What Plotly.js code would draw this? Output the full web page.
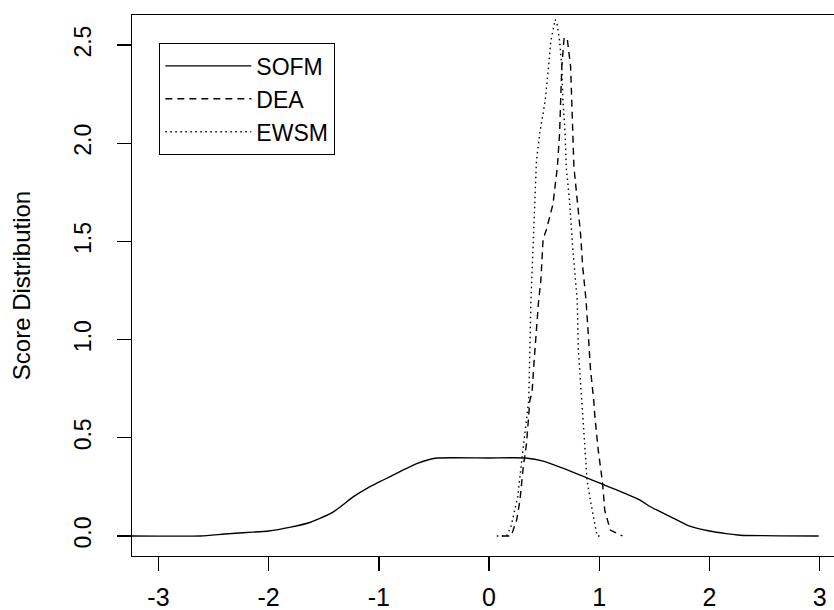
<!DOCTYPE html>
<html>
<head>
<meta charset="utf-8">
<script src="https://cdn.plot.ly/plotly-3.0.1.min.js"></script>
<style>html,body{margin:0;padding:0;background:#fff;}#chart{width:834px;height:610px;}</style>
</head>
<body>
<div id="chart"></div>
<script>
// Series names
const seriesNames = ["SOFM", "DEA", "EWSM"];

// SOFM (solid)
const sofmX = [-3.24, -2.62, -2.4, -2.2, -2.0, -1.8, -1.62, -1.42, -1.23, -1.1, -0.96, -0.8, -0.65, -0.55, -0.47, 0.0, 0.33, 0.5, 0.67, 0.85, 1.0, 1.2, 1.37, 1.46, 1.64, 1.82, 2.0, 2.15, 2.28, 2.99];
const sofmY = [0, 0, 0.01, 0.018, 0.025, 0.045, 0.07, 0.12, 0.2, 0.245, 0.285, 0.33, 0.37, 0.388, 0.397, 0.397, 0.397, 0.38, 0.345, 0.305, 0.27, 0.225, 0.183, 0.15, 0.1, 0.05, 0.025, 0.012, 0.004, 0];

// DEA (dashed)
const deaX = [0.12, 0.2, 0.25, 0.28, 0.31, 0.34, 0.37, 0.39, 0.41, 0.43, 0.45, 0.47, 0.48, 0.49, 0.52, 0.55, 0.58, 0.62, 0.64, 0.65, 0.66, 0.68, 0.69, 0.71, 0.74, 0.75, 0.76, 0.77, 0.80, 0.83, 0.85, 0.88, 0.90, 0.92, 0.95, 0.96, 0.99, 1.03, 1.05, 1.10, 1.21];
const deaY = [0, 0, 0.08, 0.18, 0.35, 0.47, 0.69, 0.73, 0.9, 1.06, 1.2, 1.3, 1.42, 1.51, 1.56, 1.62, 1.69, 1.88, 2.05, 2.22, 2.39, 2.53, 2.54, 2.53, 2.39, 2.22, 2.05, 1.88, 1.71, 1.54, 1.37, 1.2, 1.03, 0.85, 0.69, 0.61, 0.44, 0.27, 0.13, 0.03, 0];

// EWSM (dotted)
const ewsmX = [0.07, 0.16, 0.2, 0.26, 0.31, 0.36, 0.38, 0.42, 0.43, 0.46, 0.51, 0.54, 0.56, 0.60, 0.62, 0.64, 0.66, 0.67, 0.69, 0.70, 0.73, 0.76, 0.80, 0.81, 0.84, 0.86, 0.88, 0.89, 0.92, 0.95, 0.98, 1.03];
const ewsmY = [0, 0, 0.05, 0.2, 0.45, 0.69, 1.2, 1.71, 1.91, 2.05, 2.22, 2.39, 2.52, 2.63, 2.6, 2.52, 2.39, 2.22, 2.05, 1.88, 1.71, 1.46, 1.2, 0.95, 0.69, 0.52, 0.35, 0.28, 0.18, 0.08, 0, 0];

// Tick values
const xTicks = [-3, -2, -1, 0, 1, 2, 3];
const yTicks = [0, 0.5, 1.0, 1.5, 2.0, 2.5];
const yTickText = ["0.0", "0.5", "1.0", "1.5", "2.0", "2.5"];
const yTitle = "Score Distribution";

const FONT = "Liberation Sans, Arial, sans-serif";
const lw = 1.4;

const traces = [
  {x: sofmX, y: sofmY, name: seriesNames[0], mode: "lines", line: {color: "#000", width: lw, dash: "solid", shape: "spline", smoothing: 0.6}},
  {x: deaX, y: deaY, name: seriesNames[1], mode: "lines", line: {color: "#000", width: lw, dash: "7px,5px"}},
  {x: ewsmX, y: ewsmY, name: seriesNames[2], mode: "lines", line: {color: "#000", width: lw, dash: "1.5px,3.5px"}}
];

const layout = {
  width: 834, height: 610,
  margin: {l: 132, r: 0, t: 15, b: 54, pad: 0},
  paper_bgcolor: "#fff", plot_bgcolor: "#fff",
  font: {family: FONT, color: "#000", size: 20},
  showlegend: true,
  legend: {
    x: 0.0385, y: 0.948, xanchor: "left", yanchor: "top",
    bordercolor: "#000", borderwidth: 1.3, bgcolor: "#fff",
    font: {family: FONT, size: 23, color: "#000"},
    itemwidth: 86, tracegroupgap: 0,
    traceorder: "normal"
  },
  xaxis: {
    range: [-3.24, 3.13], autorange: false,
    tickvals: xTicks, ticktext: xTicks.map(String),
    ticks: "outside", ticklen: 14, tickwidth: lw, tickcolor: "#000",
    showline: true, linecolor: "#000", linewidth: lw, mirror: true,
    showgrid: false, zeroline: false,
    tickfont: {family: FONT, size: 25, color: "#000"},
    ticklabelstandoff: 5
  },
  yaxis: {
    range: [-0.102, 2.653], autorange: false,
    tickvals: yTicks, ticktext: yTickText,
    ticks: "outside", ticklen: 14, tickwidth: lw, tickcolor: "#000",
    showline: true, linecolor: "#000", linewidth: lw, mirror: false,
    showgrid: false, zeroline: false,
    tickangle: -90,
    tickfont: {family: FONT, size: 23, color: "#000"},
    ticklabelstandoff: 16,
    title: {text: yTitle, font: {family: FONT, size: 24, color: "#000"}, standoff: 33},
    automargin: false
  }
};

Plotly.newPlot("chart", traces, layout, {displayModeBar: false, staticPlot: true});
</script>
</body>
</html>
